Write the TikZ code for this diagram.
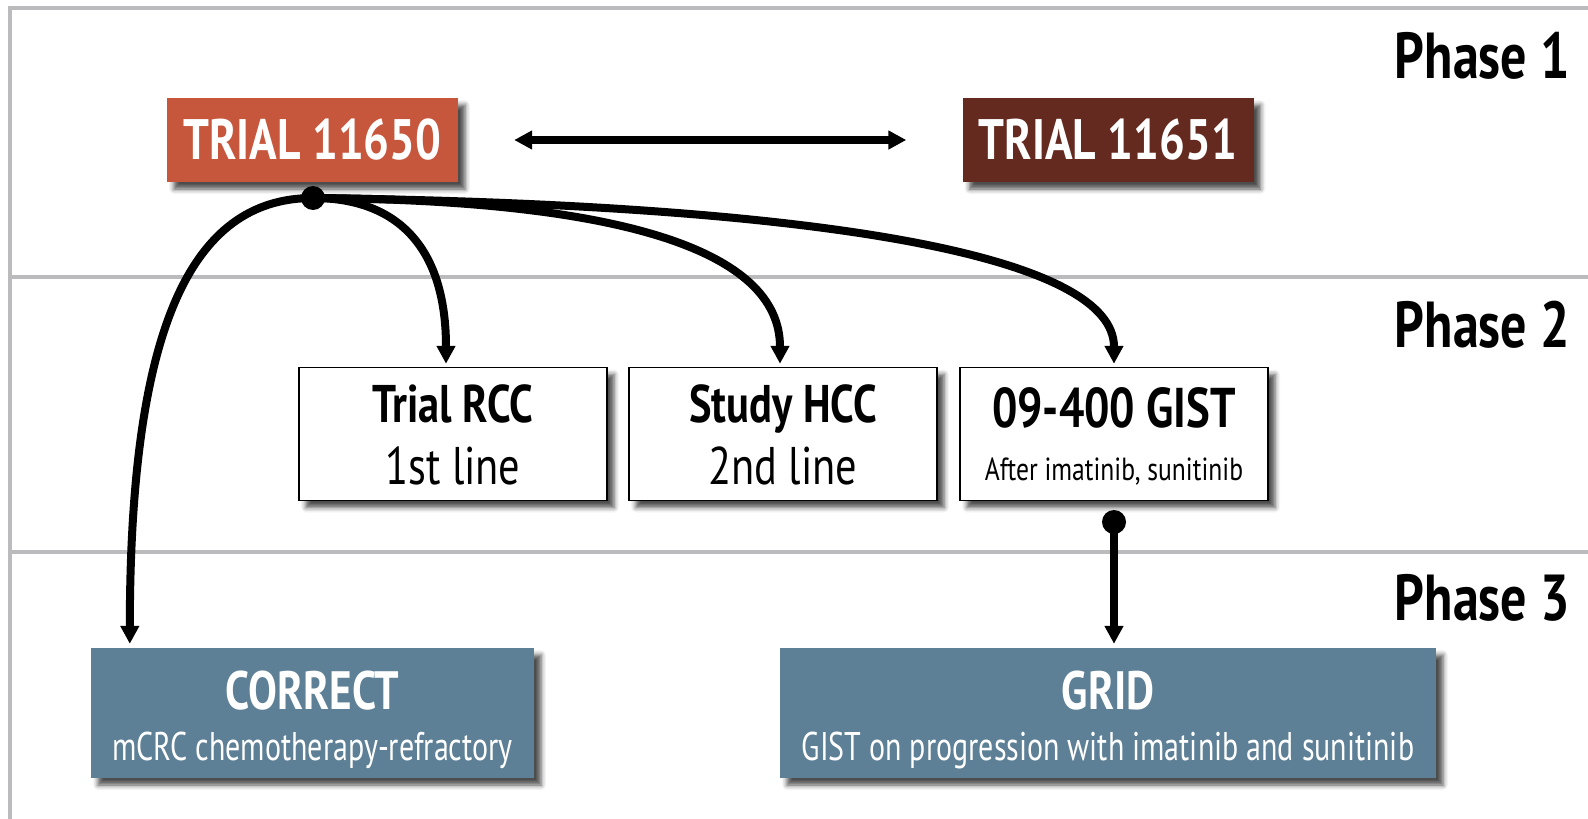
\documentclass[tikz,border=0pt]{standalone}
\usepackage{fontspec}
\setmainfont{PT Sans}[FakeStretch=0.8]
\newfontfamily\subfont{PT Sans}[FakeStretch=0.75]
\usetikzlibrary{arrows.meta,shadows.blur,calc}

\definecolor{trialA}{HTML}{C7573C}
\definecolor{trialB}{HTML}{652A1F}
\definecolor{phasethree}{HTML}{5D8096}
\definecolor{framegray}{HTML}{BBBBBE}

\newcommand{\fsz}[1]{\fontsize{#1}{#1}\selectfont}

\begin{document}
\begin{tikzpicture}[x=1pt,y=-1pt,
  shadowed/.style={blur shadow={shadow xshift=7pt,shadow yshift=-7pt,shadow blur radius=5pt,shadow opacity=70}},
  trialbox/.style={shadowed,minimum width=291pt,minimum height=84pt,inner sep=0pt,text=white,font=\bfseries\fsz{57}},
  studybox/.style={draw=black,line width=1.5pt,fill=white,shadowed,minimum width=308pt,minimum height=133pt,inner sep=0pt},
  finalbox/.style={fill=phasethree,shadowed,minimum height=130pt,inner sep=0pt},
  boxtitle/.style={anchor=base,inner sep=0pt,font=\bfseries\fsz{53}},
  boxsub/.style={anchor=base,inner sep=0pt,font=\fsz{53}},
  frameline/.style={draw=framegray,line width=4pt},
  phaselabel/.style={anchor=base east,inner sep=0pt,font=\bfseries\fsz{65}},
  hubdot/.style={circle,fill=black,inner sep=0pt,minimum size=24pt},
  conn/.style={line width=8pt,-{Triangle[length=18pt,width=18pt]}},
]
\useasboundingbox (0,0) rectangle (1588,819);

% swim-lane frame
\draw[frameline] (10,819) -- (10,8) -- (1588,8);
\draw[frameline] (10,277) -- (1588,277);
\draw[frameline] (10,552) -- (1588,552);

% phase labels
\node[phaselabel] (ph1) at (1570,78) {Phase 1};
\node[phaselabel] (ph2) at (1570,347) {Phase 2};
\node[phaselabel] (ph3) at (1570,620) {Phase 3};

% phase 1 trials
\node[trialbox,fill=trialA] (t50) at (312.5,140) {TRIAL 11650};
\node[trialbox,fill=trialB] (t51) at (1108,140) {TRIAL 11651};
\draw[line width=8pt,{Triangle[length=18pt,width=18pt]}-{Triangle[length=18pt,width=18pt]},
      shorten <=56pt,shorten >=56pt] (t50.east) -- (t51.west);

% phase 2 studies
\node[studybox] (rcc) at (453,434) {};
\node[boxtitle] (rcc-t) at (453,422) {Trial RCC};
\node[boxsub] (rcc-s) at (453,484) {1st line};

\node[studybox] (hcc) at (783,434) {};
\node[boxtitle] (hcc-t) at (783,422) {Study HCC};
\node[boxsub] (hcc-s) at (783,484) {2nd line};

\node[studybox] (gist) at (1114,434) {};
\node[boxtitle,font=\bfseries\fsz{56}] (gist-t) at (1114,427) {09-400 GIST};
\node[boxsub,font=\fsz{32}] (gist-s) at (1114,480) {After imatinib, sunitinib};

% phase 3 trials
\node[finalbox,minimum width=443pt] (correct) at (312.5,713) {};
\node[boxtitle,text=white,font=\bfseries\fsz{54}] (correct-t) at (312.5,709) {CORRECT};
\node[boxsub,text=white,font=\subfont\fsz{40}] (correct-s) at (312.5,760) {mCRC chemotherapy-refractory};

\node[finalbox,minimum width=656pt] (grid) at (1108,713) {};
\node[boxtitle,text=white,font=\bfseries\fsz{54}] (grid-t) at (1108,709) {GRID};
\node[boxsub,text=white,font=\subfont\fsz{40}] (grid-s) at (1108,760) {GIST on progression with imatinib and sunitinib};

% branching connectors
\node[hubdot] (hub) at (313,198) {};
\draw[conn,shorten >=4pt] (hub.center) .. controls (190,198) and (130,330) .. ($(correct.north west)+(39,0)$);
\draw[conn,shorten >=3pt] (hub.center) .. controls (400,198) and (446,250) .. ($(rcc.north)+(-7,0)$);
\draw[conn,shorten >=3pt] (hub.center) .. controls (620,200) and (780,250) .. ($(hcc.north)+(-3,0)$);
\draw[conn,shorten >=3pt] (hub.center) .. controls (850,205) and (1114,260) .. (gist.north);

\node[hubdot] (gdot) at (1114,522) {};
\draw[conn,shorten >=4pt] (gdot.center) -- (gdot |- grid.north);
\end{tikzpicture}
\end{document}
